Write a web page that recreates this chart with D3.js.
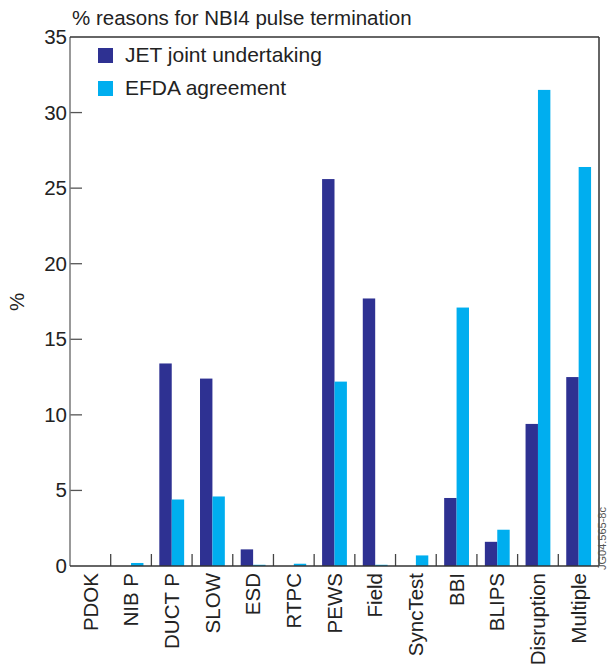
<!DOCTYPE html>
<html>
<head>
<meta charset="utf-8">
<script src="https://cdn.jsdelivr.net/npm/d3@7"></script>
<style>
  html, body { margin: 0; padding: 0; background: #fff; }
  svg { display: block; font-family: "Liberation Sans", Arial, Helvetica, sans-serif; }
</style>
</head>
<body>
<svg id="chart" width="607" height="668"></svg>
<script>
// Termination reasons for NBI4 pulses, in percent
const categories = ["PDOK", "NIB P", "DUCT P", "SLOW", "ESD", "RTPC", "PEWS", "Field",
                    "SyncTest", "BBI", "BLIPS", "Disruption", "Multiple"];
const jetValues  = [0, 0, 13.4, 12.4, 1.1, 0, 25.6, 17.7, 0, 4.5, 1.6, 9.4, 12.5];
const efdaValues = [0, 0.2, 4.4, 4.6, 0.08, 0.15, 12.2, 0.08, 0.7, 17.1, 2.4, 31.5, 26.4];
const seriesNames = ["JET joint undertaking", "EFDA agreement"];
const seriesColors = ["#2e3192", "#00aeef"];
const yTicks = [0, 5, 10, 15, 20, 25, 30, 35];

const svg = d3.select("#chart");
const margin = { left: 70, right: 8, top: 37, bottom: 102 };
const W = 607, H = 668;
const x0 = margin.left, x1 = W - margin.right;
const y0 = H - margin.bottom, y1 = margin.top;

const x = d3.scaleBand().domain(categories).range([x0, x1]).padding(0);
const xs = d3.scaleBand().domain([0, 1])
  .range([x.bandwidth() * 0.195, x.bandwidth() * 0.805]).padding(0);
const y = d3.scaleLinear().domain([0, 35]).range([y0, y1]);

const rows = categories.map((c, i) => ({ c, v: [jetValues[i], efdaValues[i]] }));

// bars
const g = svg.append("g");
rows.forEach(r => {
  r.v.forEach((v, s) => {
    if (v <= 0) return;
    g.append("rect")
      .attr("x", x(r.c) + xs(s))
      .attr("width", xs.bandwidth())
      .attr("y", y(v))
      .attr("height", y(0) - y(v))
      .attr("fill", seriesColors[s]);
  });
});

// y axis with inward ticks
const yAxis = d3.axisLeft(y).tickValues(yTicks).tickSize(0).tickPadding(3);
const ya = svg.append("g").attr("transform", `translate(${x0},0)`).call(yAxis);
ya.select(".domain").remove();
ya.selectAll("text").attr("font-size", 20.5).attr("fill", "#222")
  .attr("font-family", "Liberation Sans, Arial, sans-serif");
svg.append("g").selectAll("line")
  .data(yTicks.filter(t => t > 0 && t < 35))
  .join("line")
  .attr("x1", x0).attr("x2", x0 + 12)
  .attr("y1", d => y(d)).attr("y2", d => y(d))
  .attr("stroke", "#555").attr("stroke-width", 1.3);

// x axis: category labels rotated, separators between categories
const xAxis = d3.axisBottom(x).tickSize(0).tickPadding(0);
const xa = svg.append("g").attr("transform", `translate(0,${y0})`).call(xAxis);
xa.select(".domain").remove();
xa.selectAll("text")
  .attr("font-size", 20.5).attr("fill", "#222")
  .attr("font-family", "Liberation Sans, Arial, sans-serif")
  .attr("text-anchor", "end")
  .attr("dy", "0.35em")
  .attr("transform", "translate(0,7) rotate(-90)")
  .attr("x", 0).attr("y", 0);
svg.append("g").selectAll("line")
  .data(categories.slice(1))
  .join("line")
  .attr("x1", d => x(d)).attr("x2", d => x(d))
  .attr("y1", y0).attr("y2", y0 - 12)
  .attr("stroke", "#444").attr("stroke-width", 1.3);

// frame
svg.append("line").attr("x1", x0).attr("x2", x0).attr("y1", y1).attr("y2", y0)
  .attr("stroke", "#777").attr("stroke-width", 1.5);
svg.append("line").attr("x1", x0).attr("x2", x1).attr("y1", y0).attr("y2", y0)
  .attr("stroke", "#333").attr("stroke-width", 1.5);
svg.append("line").attr("x1", x0).attr("x2", x1).attr("y1", y1).attr("y2", y1)
  .attr("stroke", "#333").attr("stroke-width", 1.5);
svg.append("line").attr("x1", x1).attr("x2", x1).attr("y1", y1).attr("y2", y0)
  .attr("stroke", "#333").attr("stroke-width", 1.5);

// title and y label
svg.append("text").attr("x", 72).attr("y", 25)
  .attr("font-size", 20.5).attr("fill", "#222")
  .text("% reasons for NBI4 pulse termination");
svg.append("text")
  .attr("transform", `translate(24,302) rotate(-90)`)
  .attr("text-anchor", "middle")
  .attr("font-size", 20.5).attr("fill", "#222")
  .text("%");

// legend
const legend = svg.append("g");
seriesNames.forEach((name, i) => {
  const ly = 48 + i * 33;
  legend.append("rect").attr("x", 98).attr("y", ly)
    .attr("width", 15).attr("height", 15).attr("fill", seriesColors[i]);
  legend.append("text").attr("x", 125).attr("y", ly + 14)
    .attr("font-size", 21).attr("fill", "#222").text(name);
});

// figure reference number
svg.append("text")
  .attr("transform", `translate(606,570) rotate(-90)`)
  .attr("font-size", 11).attr("fill", "#555")
  .text("JG04.565-8c");
</script>
</body>
</html>
